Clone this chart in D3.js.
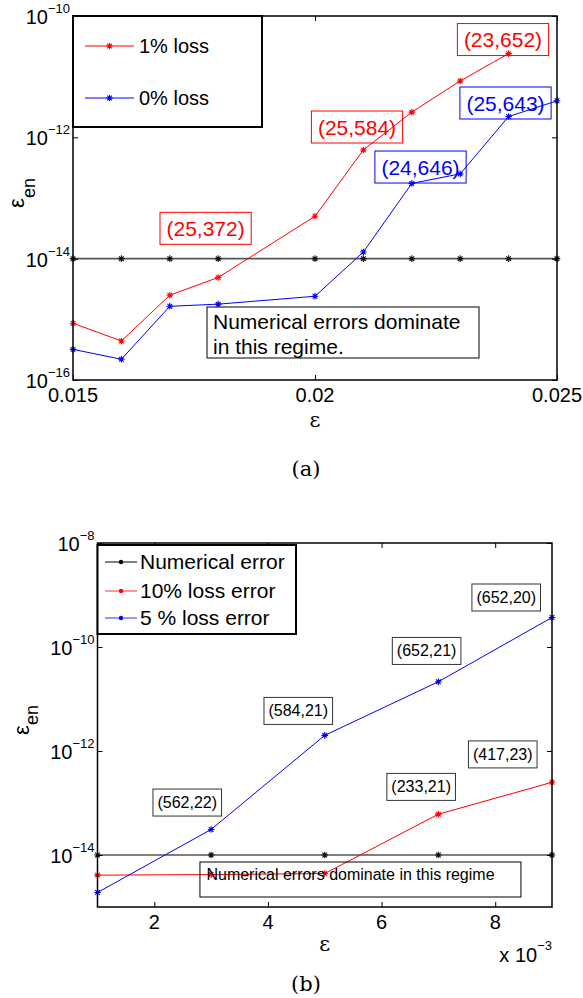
<!DOCTYPE html>
<html lang="en">
<head>
<meta charset="UTF-8">
<title>Energy error vs epsilon</title>
<script src="https://d3js.org/d3.v7.min.js"></script>
<style>
  body { margin: 0; background: #fff; }
  svg text { font-family: "Liberation Sans", Arial, Helvetica, sans-serif; }
</style>
</head>
<body>
<script>
// ---------- panel (a) ----------
var epsA = [0.015, 0.016, 0.017, 0.018, 0.020, 0.021, 0.022, 0.023, 0.024, 0.025];
var numericalA = [1e-14, 1e-14, 1e-14, 1e-14, 1e-14, 1e-14, 1e-14, 1e-14, 1e-14, 1e-14];
var loss1A = [8.6e-16, 4.4e-16, 2.5e-15, 4.9e-15, 5.0e-14, 6.2e-13, 2.6e-12, 8.5e-12, 2.4e-11];
var loss0A = [3.2e-16, 2.2e-16, 1.64e-15, 1.78e-15, 2.4e-15, 1.29e-14, 1.74e-13, 2.5e-13, 2.2e-12, 4.0e-12];
var xTicksA = [0.015, 0.02, 0.025];
var xTickLabelsA = ["0.015", "0.02", "0.025"];
var yTicksA = [1e-16, 1e-14, 1e-12, 1e-10];
var legendA = ["1% loss", "0% loss"];
// annotation texts and where they sit (data coords of box centre)
var notesA = [
  { text: "(25,372)", x: 0.01774, y: 3.16e-14, color: "red" },
  { text: "(25,584)", x: 0.020868, y: 1.48e-12, color: "red" },
  { text: "(23,652)", x: 0.023884, y: 4.09e-11, color: "red" },
  { text: "(24,646)", x: 0.02218, y: 3.24e-13, color: "blue" },
  { text: "(25,643)", x: 0.023936, y: 3.68e-12, color: "blue" }
];
var regimeA = ["Numerical errors dominate", "in this regime."];

// ---------- panel (b) ----------
var epsB = [0.001, 0.003, 0.005, 0.007, 0.009];
var numericalB = [1e-14, 1e-14, 1e-14, 1e-14, 1e-14];
var loss10B = [4.1e-15, 4.2e-15, 4.4e-15, 6.1e-14, 2.5e-13];
var loss5B = [1.9e-15, 3.1e-14, 2.0e-12, 2.15e-11, 3.7e-10];
var xTicksB = [0.002, 0.004, 0.006, 0.008];
var xTickLabelsB = ["2", "4", "6", "8"];
var yTicksB = [1e-14, 1e-12, 1e-10, 1e-8];
var legendB = ["Numerical error", "10% loss error", "5 % loss error"];
var notesB = [
  { text: "(562,22)", x: 0.00258, y: 1.02e-13 },
  { text: "(584,21)", x: 0.004534, y: 5.9e-12 },
  { text: "(652,21)", x: 0.006793, y: 8.4e-11 },
  { text: "(652,20)", x: 0.008194, y: 8.95e-10 },
  { text: "(417,23)", x: 0.008133, y: 8.6e-13 },
  { text: "(233,21)", x: 0.006697, y: 2.04e-13 }
];
var regimeB = ["Numerical errors dominate in this regime"];

var svg = d3.select("body").append("svg")
  .attr("width", 583)
  .attr("height", 998);

function star(r) {
  var d = r * 0.707;
  return "M" + (-r) + ",0L" + r + ",0M0," + (-r) + "L0," + r +
         "M" + (-d) + "," + (-d) + "L" + d + "," + d +
         "M" + (-d) + "," + d + "L" + d + "," + (-d);
}

function drawPanel(cfg) {
  var x = d3.scaleLinear().domain(cfg.xDomain).range([cfg.left, cfg.right]);
  var y = d3.scaleLog().domain(cfg.yDomain).range([cfg.bottom, cfg.top]);
  var g = svg.append("g");

  var line = d3.line().x(d => x(d[0])).y(d => y(d[1]));

  cfg.series.forEach(function(s) {
    var pts = s.values.map((v, i) => [cfg.xs[i], v]);
    g.append("path").datum(pts)
      .attr("d", line)
      .attr("fill", "none")
      .attr("stroke", s.color)
      .attr("stroke-width", s.width);
    g.selectAll(null).data(pts).enter().append("path")
      .attr("transform", d => "translate(" + x(d[0]) + "," + y(d[1]) + ")")
      .attr("d", star(3.3))
      .attr("stroke", s.mark)
      .attr("stroke-width", 1.1)
      .attr("fill", "none");
  });

  // inward ticks on all four sides
  var tick = 5;
  g.append("g").attr("transform", "translate(" + cfg.left + ",0)")
    .call(d3.axisLeft(y).tickValues(cfg.yTicks).tickSizeInner(-tick).tickSizeOuter(0).tickFormat(""));
  g.append("g").attr("transform", "translate(" + cfg.right + ",0)")
    .call(d3.axisRight(y).tickValues(cfg.yTicks).tickSizeInner(-tick).tickSizeOuter(0).tickFormat(""));
  g.append("g").attr("transform", "translate(0," + cfg.bottom + ")")
    .call(d3.axisBottom(x).tickValues(cfg.xTicks).tickSizeInner(-tick).tickSizeOuter(0).tickFormat(""));
  g.append("g").attr("transform", "translate(0," + cfg.top + ")")
    .call(d3.axisTop(x).tickValues(cfg.xTicks).tickSizeInner(-tick).tickSizeOuter(0).tickFormat(""));
  g.selectAll(".domain").remove();
  g.selectAll(".tick text").remove();
  g.selectAll(".tick line").attr("stroke", "#000").attr("stroke-width", 1);

  g.append("rect")
    .attr("x", cfg.left).attr("y", cfg.top)
    .attr("width", cfg.right - cfg.left).attr("height", cfg.bottom - cfg.top)
    .attr("fill", "none").attr("stroke", "#000").attr("stroke-width", 1.5);

  // y tick labels 10^n
  var yl = g.selectAll(null).data(cfg.yTicks).enter().append("text")
    .attr("x", cfg.left - 3)
    .attr("y", d => y(d) + 8)
    .attr("text-anchor", "end")
    .attr("font-size", 20);
  yl.append("tspan").text("10");
  yl.append("tspan").attr("dy", -11).attr("font-size", 13)
    .text(d => "\u2212" + Math.abs(Math.round(Math.log10(d))));

  // x tick labels
  g.selectAll(null).data(cfg.xTicks).enter().append("text")
    .attr("x", d => x(d))
    .attr("y", cfg.bottom + 22)
    .attr("text-anchor", "middle")
    .attr("font-size", 20)
    .text((d, i) => cfg.xTickLabels[i]);

  // x label
  g.append("text")
    .attr("x", (cfg.left + cfg.right) / 2)
    .attr("y", cfg.xLabelY)
    .attr("text-anchor", "middle")
    .attr("font-size", 21)
    .style("font-family", "'DejaVu Serif', serif")
    .text("\u03b5");

  // y label
  var ylab = g.append("text")
    .attr("transform", "translate(" + cfg.yLabelX + "," + cfg.yLabelY + ") rotate(-90)")
    .attr("text-anchor", "middle")
    .attr("font-size", 22);
  ylab.append("tspan").text("\u03b5");
  ylab.append("tspan").attr("dy", cfg.subDy).attr("font-size", 18).text("en");

  // annotation boxes
  cfg.notes.forEach(function(n) {
    var t = g.append("text")
      .attr("x", x(n.x))
      .attr("y", y(n.y))
      .attr("text-anchor", "middle")
      .attr("dominant-baseline", "central")
      .attr("font-size", cfg.noteSize)
      .attr("fill", n.color || "#000")
      .text(n.text);
    var b = t.node().getBBox();
    g.insert("rect", () => t.node())
      .attr("x", b.x - cfg.notePad[0]).attr("y", b.y - cfg.notePad[1])
      .attr("width", b.width + 2 * cfg.notePad[0]).attr("height", b.height + 2 * cfg.notePad[1])
      .attr("fill", "none")
      .attr("stroke", n.color || "#333")
      .attr("stroke-width", 1);
  });

  // regime note
  var r = cfg.regime;
  var rt = g.append("text").attr("font-size", r.size);
  r.lines.forEach(function(l, i) {
    rt.append("tspan").attr("x", x(r.x)).attr("y", y(r.y) + i * r.lineH).text(l);
  });
  g.append("rect")
    .attr("x", x(r.x) - r.box[0]).attr("y", y(r.y) - r.box[1])
    .attr("width", r.box[2]).attr("height", r.box[3])
    .attr("fill", "none").attr("stroke", "#000").attr("stroke-width", 1);

  // legend
  var L = cfg.legend;
  g.append("rect")
    .attr("x", L.x0).attr("y", L.y0)
    .attr("width", L.x1 - L.x0).attr("height", L.y1 - L.y0)
    .attr("fill", "#fff").attr("stroke", "#000").attr("stroke-width", 2);
  L.items.forEach(function(it, i) {
    var ly = L.rows[i];
    g.append("line")
      .attr("x1", L.lx0).attr("x2", L.lx1).attr("y1", ly).attr("y2", ly)
      .attr("stroke", it.color).attr("stroke-width", 1);
    if (L.dots) {
      g.append("circle").attr("cx", (L.lx0 + L.lx1) / 2).attr("cy", ly).attr("r", 2.2).attr("fill", it.mark);
    } else {
      g.append("path").attr("transform", "translate(" + (L.lx0 + L.lx1) / 2 + "," + ly + ")")
        .attr("d", star(3.3)).attr("stroke", it.mark).attr("stroke-width", 1.1);
    }
    g.append("text")
      .attr("x", L.tx).attr("y", ly + 7)
      .attr("font-size", L.size)
      .text(it.label);
  });
}

drawPanel({
  left: 73, right: 557, top: 16, bottom: 380,
  xDomain: [0.015, 0.025], yDomain: [1e-16, 1e-10],
  xs: epsA,
  series: [
    { values: numericalA, color: "#555", mark: "#111", width: 1.6 },
    { values: loss1A, color: "#ff0000", mark: "#ff0000", width: 1 },
    { values: loss0A, color: "#0000ff", mark: "#0000ff", width: 1 }
  ],
  xTicks: xTicksA, xTickLabels: xTickLabelsA, yTicks: yTicksA,
  xLabelY: 427, yLabelX: 24, yLabelY: 193, subDy: 11,
  notes: notesA, noteSize: 21, notePad: [6.5, 4.5],
  regime: { lines: regimeA, x: 0.015 + (213 - 73) / 48400, y: Math.pow(10, -16 + (380 - 329) / 60.67), lineH: 25, size: 21, box: [6, 22, 272, 51] },
  legend: {
    x0: 73, y0: 16, x1: 262, y1: 127, lx0: 85, lx1: 134, tx: 139, size: 20,
    rows: [46, 98],
    items: [
      { label: legendA[0], color: "#ff0000", mark: "#ff0000" },
      { label: legendA[1], color: "#0000ff", mark: "#0000ff" }
    ]
  }
});

drawPanel({
  left: 97.5, right: 552, top: 543, bottom: 907,
  xDomain: [0.001, 0.009], yDomain: [1e-15, 1e-8],
  xs: epsB,
  series: [
    { values: numericalB, color: "#555", mark: "#111", width: 1.3 },
    { values: loss10B, color: "#ff0000", mark: "#ff0000", width: 1 },
    { values: loss5B, color: "#0000ff", mark: "#0000ff", width: 1 }
  ],
  xTicks: xTicksB, xTickLabels: xTickLabelsB, yTicks: yTicksB,
  xLabelY: 951, yLabelX: 29, yLabelY: 720, subDy: 9,
  notes: notesB, noteSize: 16, notePad: [4.5, 5],
  regime: { lines: regimeB, x: 0.001 + (207 - 97.5) / 57100, y: Math.pow(10, -15 + (907 - 880) / 52), lineH: 0, size: 16, box: [6.5, 18, 321, 35] },
  legend: {
    x0: 97.5, y0: 545, x1: 296, y1: 634, lx0: 105, lx1: 137, tx: 140, size: 21,
    rows: [562, 591, 618], dots: true,
    items: [
      { label: legendB[0], color: "#000", mark: "#000" },
      { label: legendB[1], color: "#ff3030", mark: "#ff0000" },
      { label: legendB[2], color: "#3030ff", mark: "#0000ff" }
    ]
  }
});

// x 10^-3 multiplier on panel (b)
var mult = svg.append("text")
  .attr("x", 552).attr("y", 962)
  .attr("text-anchor", "end")
  .attr("font-size", 20);
mult.append("tspan").text("x 10");
mult.append("tspan").attr("dy", -12).attr("font-size", 13).text("\u22123");

// sub-captions
svg.append("text").attr("x", 306).attr("y", 476).attr("text-anchor", "middle")
  .attr("font-size", 21).style("font-family", "'DejaVu Serif', 'Liberation Serif', serif").text("(a)");
svg.append("text").attr("x", 306).attr("y", 991).attr("text-anchor", "middle")
  .attr("font-size", 21).style("font-family", "'DejaVu Serif', 'Liberation Serif', serif").text("(b)");
</script>
</body>
</html>
